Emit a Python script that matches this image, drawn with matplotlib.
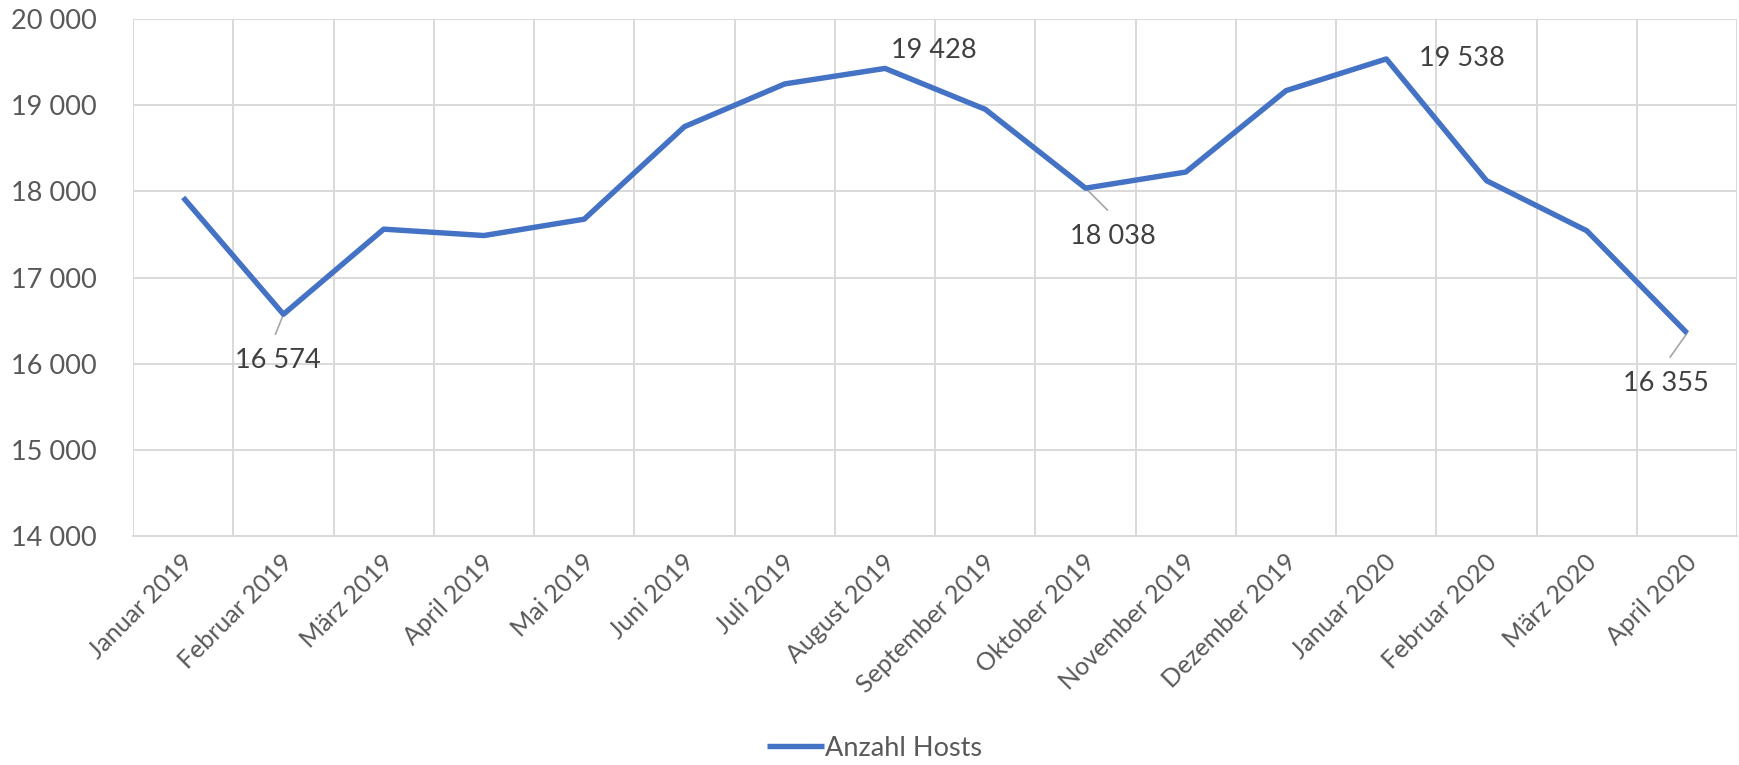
import matplotlib
matplotlib.use("Agg")
import matplotlib.pyplot as plt
import matplotlib.transforms as mtransforms
from matplotlib.ticker import FuncFormatter, MultipleLocator

months = ["Januar 2019", "Februar 2019", "März 2019", "April 2019", "Mai 2019",
          "Juni 2019", "Juli 2019", "August 2019", "September 2019", "Oktober 2019",
          "November 2019", "Dezember 2019", "Januar 2020", "Februar 2020",
          "März 2020", "April 2020"]
hosts = [17930, 16574, 17562, 17488, 17678, 18752, 19248, 19428, 18953, 18038,
         18225, 19170, 19538, 18124, 17543, 16355]
series_name = "Anzahl Hosts"
labeled_idx = [1, 7, 9, 12, 15]

plt.rcParams['font.family'] = ['Lato', 'DejaVu Sans']

fig = plt.figure(figsize=(17.39, 7.65), dpi=100)
ax = fig.add_axes([0.0765, 0.2993, 0.9225, 0.6757])

x = list(range(len(months)))
line, = ax.plot(x, hosts, color="#4472C4", lw=3.9, solid_joinstyle="round",
                solid_capstyle="butt", zorder=3, label=series_name)

ax.set_xlim(-0.5, len(months) - 0.5)
ax.set_ylim(14000, 20000)
ax.yaxis.set_major_locator(MultipleLocator(1000))
ax.yaxis.set_major_formatter(FuncFormatter(lambda v, p: f"{int(v):,}".replace(",", " ")))

grid_c = "#D9D9D9"
ax.grid(axis="y", color=grid_c, lw=1.4, zorder=0)
for b in [i - 0.5 for i in range(len(months) + 1)]:
    ax.axvline(b, color=grid_c, lw=1.4, zorder=0)
for s in ["top", "right", "left"]:
    ax.spines[s].set_visible(False)
ax.spines["bottom"].set_color(grid_c)
ax.spines["bottom"].set_linewidth(1.4)

ax.set_xticks(x)
ax.set_xticklabels(months, rotation=45, ha="right", va="center",
                   rotation_mode="anchor", fontsize=18, color="#595959")
ax.tick_params(axis="x", length=0, pad=16)
ax.tick_params(axis="y", length=0, pad=26, labelsize=19.5, labelcolor="#595959")
offset = mtransforms.ScaledTranslation(6 / 100, 0, fig.dpi_scale_trans)
for lab in ax.get_xticklabels():
    lab.set_transform(lab.get_transform() + offset)

# data labels: (text offset px, leader offset px or None)
label_style = {
    1: ((-6, -46), (-8, -20)),
    7: ((49, 18), None),
    9: ((27, -48), (22, -22)),
    12: ((76, 0), None),
    15: ((-21, -50), (-17, -24)),
}
for i in labeled_idx:
    (tx, ty), lead = label_style[i]
    ax.annotate(f"{hosts[i]:,}".replace(",", " "), xy=(i, hosts[i]),
                xytext=(tx, ty), textcoords="offset pixels",
                ha="center", va="center", fontsize=19.5, color="#404040",
                annotation_clip=False, zorder=4)
    if lead is not None:
        ax.annotate("", xy=(i, hosts[i]), xytext=lead, textcoords="offset pixels",
                    arrowprops=dict(arrowstyle="-", color="#A6A6A6", lw=1.2,
                                    shrinkA=0, shrinkB=0), zorder=2)

fig.legend(handles=[line], labels=[series_name], loc="center",
           bbox_to_anchor=(0.503, 0.022), frameon=False, fontsize=19.5,
           labelcolor="#595959", handlelength=2.1, handletextpad=0.05)

fig.savefig("out.png", dpi=100)
